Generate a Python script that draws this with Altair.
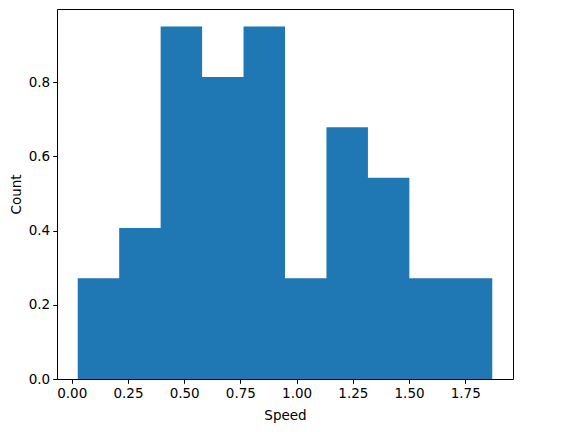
import altair as alt
import pandas as pd

bin_edges = [0.0266, 0.2110, 0.3953, 0.5797, 0.7640, 0.9484, 1.1327, 1.3171, 1.5014, 1.6858, 1.8701]
density = [0.2713, 0.4069, 0.9495, 0.8138, 0.9495, 0.2713, 0.6782, 0.5426, 0.2713, 0.2713]
x_ticks = [0.0, 0.25, 0.5, 0.75, 1.0, 1.25, 1.5, 1.75]
y_ticks = [0.0, 0.2, 0.4, 0.6, 0.8]

# step outline: each edge carries the height of the bin that starts there
df = pd.DataFrame({
    "edge": bin_edges,
    "d": density + [density[-1]],
})

FONT = "DejaVu Sans"
FS = 13.5

chart = alt.Chart(df).mark_area(color="#1f77b4", interpolate="step-after", opacity=1).encode(
    x=alt.X("edge:Q", scale=alt.Scale(domain=[-0.0656, 1.9623], nice=False, zero=False),
            axis=alt.Axis(values=x_ticks, format=".2f", title="Speed", grid=False,
                          tickSize=4.3, tickColor="black", domain=False,
                          labelPadding=3, labelColor="black", labelFont=FONT, labelFontSize=FS,
                          titleFont=FONT, titleFontSize=FS, titleFontWeight="normal",
                          titleColor="black", titlePadding=9)),
    y=alt.Y("d:Q", scale=alt.Scale(domain=[0, 0.99697], nice=False),
            axis=alt.Axis(values=y_ticks, format=".1f", title="Count", grid=False,
                          tickSize=4.3, tickColor="black", domain=False,
                          labelPadding=3, labelColor="black", labelFont=FONT, labelFontSize=FS,
                          titleFont=FONT, titleFontSize=FS, titleFontWeight="normal",
                          titleColor="black", titlePadding=5)),
).properties(
    width=456, height=370,
    autosize=alt.AutoSizeParams(type="none"),
    padding={"left": 49, "top": 1, "right": 46, "bottom": 45},
).configure_view(stroke="black", strokeWidth=1)

chart.save("out.html", embed_options={"renderer": "svg", "actions": False})
